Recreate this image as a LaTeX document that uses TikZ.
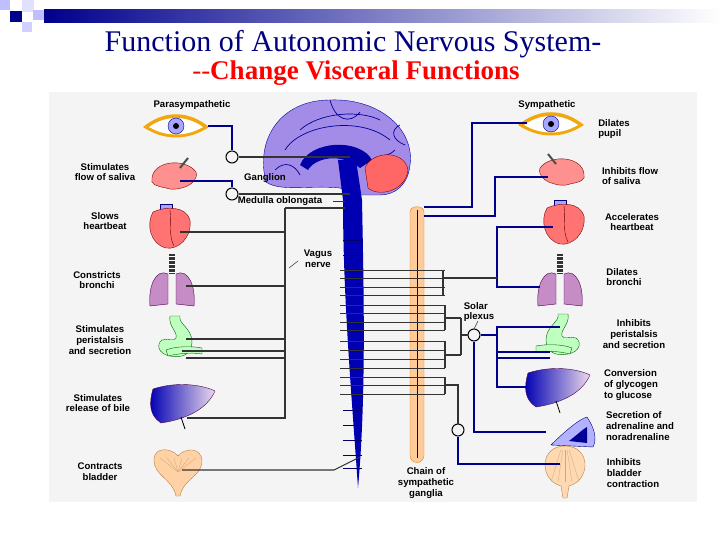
\documentclass[tikz,border=0pt]{standalone}
\usepackage{fontspec}
\setmainfont{Liberation Serif}
\newfontfamily\lab{Liberation Sans}
\begin{document}
\begin{tikzpicture}[x=1pt,y=-1pt,
  lbl/.style={font=\lab\bfseries\fontsize{9.6}{10.8}\selectfont,align=center,inner sep=0pt},
  nv/.style={line width=1.1pt,black!80},
  bn/.style={line width=1.1pt,blue!55!black},
  gang/.style={circle,draw=black,line width=1pt,minimum size=12pt,inner sep=0pt},
  eye/.pic={\fill[orange!60!yellow!80!brown] (-33,0) .. controls (-12,-17) and (12,-17) .. (33,0) .. controls (12,14) and (-12,14) .. (-33,0);
    \fill[white] (-27,0) .. controls (-10,-12) and (10,-12) .. (27,0) .. controls (10,10) and (-10,10) .. (-27,0);
    \fill[blue!35!white,draw=blue!50!black] (0,-1) circle (8); \fill[black] (0,-1) circle (3);},
  gland/.pic={\fill[red!25!pink,draw=red!50!black,line width=.4pt] (-22,2) .. controls (-20,-16) and (12,-18) .. (22,-4) .. controls (26,10) and (0,16) .. (-8,12) .. controls (-18,10) and (-24,8) .. (-22,2);
    \draw[gray!60!black,line width=2pt] (6,-8) -- (14,-18);},
  heart/.pic={\fill[blue!35!white,draw=blue!50!black] (-8,-20) rectangle (4,-8); \fill[red!55!white,draw=red!50!black] (-15,-12) .. controls (-2,-18) and (18,-18) .. (22,-4) .. controls (24,14) and (10,26) .. (-2,24) .. controls (-18,20) and (-22,0) .. (-15,-12);
    \draw[red!40!black,line width=.4pt] (2,-14) .. controls (4,0) and (0,10) .. (6,22);},
  lungs/.pic={\fill[gray!40!black] (-3,-28) rectangle (3,-8); \foreach \q in {-26,-22,-18,-14,-10} \draw[white,line width=.8pt] (-3,\q) -- (3,\q);
    \fill[violet!45!white,draw=violet!60!black] (-4,-8) .. controls (-16,-14) and (-24,4) .. (-22,24) -- (-4,22) -- (-4,4) -- cycle;
    \fill[violet!45!white,draw=violet!60!black] (4,-8) .. controls (16,-14) and (24,4) .. (22,24) -- (4,22) -- (4,4) -- cycle;},
  stomach/.pic={\fill[green!25!white,draw=green!40!black] (-6,-24) -- (4,-24) .. controls (2,-16) and (16,-12) .. (16,2) .. controls (16,16) and (4,18) .. (-6,16) .. controls (-18,14) and (-20,4) .. (-14,0) .. controls (-8,-2) and (-2,2) .. (0,-2) .. controls (2,-8) and (-8,-14) .. (-6,-24);
    \fill[green!25!white,draw=green!40!black] (-10,10) .. controls (0,6) and (16,6) .. (26,8) -- (26,14) .. controls (14,12) and (0,14) .. (-8,16) -- cycle;},
  liver/.pic={\shade[left color=blue!70!black,right color=violet!15!white,draw=violet!60!black] (-30,-14) .. controls (-5,-22) and (20,-18) .. (32,-12) .. controls (24,6) and (4,16) .. (-22,20) .. controls (-34,12) and (-34,0) .. (-30,-14);
    \draw[black,line width=.8pt] (-2,14) -- (2,26);},
  bladder/.pic={\fill[orange!35!white,draw=brown] (-24,-10) .. controls (-24,-24) and (-6,-22) .. (0,-14) .. controls (6,-22) and (24,-24) .. (24,-8) .. controls (22,8) and (6,8) .. (2,26) -- (-2,26) .. controls (-6,8) and (-24,6) .. (-24,-10);
    \foreach \a in {-18,-11,-4,4,11,18} \draw[brown!70,line width=.3pt] (0,2) -- (\a,-12);},
  rbladder/.pic={\fill[orange!30!white,draw=brown] (0,-24) .. controls (26,-24) and (26,10) .. (4,16) -- (2,28) -- (-2,28) -- (-4,16) .. controls (-26,10) and (-26,-24) .. (0,-24);
    \foreach \a in {-14,-7,0,7,14} \draw[brown!70,line width=.3pt] (\a*.3,-20) -- (\a,12);},
  adrenal/.pic={\fill[blue!30!white,draw=blue!50!black] (-22,12) .. controls (-10,0) and (6,-14) .. (14,-16) .. controls (22,-4) and (24,6) .. (20,14) -- cycle; \fill[blue!60!black] (-4,8) .. controls (4,2) and (10,-4) .. (14,-6) -- (14,10) -- cycle;}
]
\useasboundingbox (0,0) rectangle (720,540);
\fill[white] (0,0) rectangle (720,540);
% header decoration
\fill[blue!12!white] (22,0) rectangle (34,12);
\fill[blue!25!white] (33,10) rectangle (50,20);
\fill[blue!18!white] (22,22) rectangle (32,32);
\fill[blue!25!white] (0,0) rectangle (10,10);
\fill[blue!55!black] (10,11) rectangle (22,22);
\shade[left color=blue!55!black,right color=white] (44,10) rectangle (720,23);
\node (t1) at (353,44) {\fontsize{30}{32}\selectfont\color{blue!50!black}Function of Autonomic Nervous System-};
\node (t2) at (356,73) {\fontsize{27}{29}\selectfont\bfseries\color{red}{\mdseries -{}-}Change Visceral Functions};
% panel
\fill[gray!9] (49,92) rectangle (697,502);
\node[lbl] (para) at (192,105) {Parasympathetic};
\node[lbl] (symp) at (547,105) {Sympathetic};
% brain
\fill[violet!40!blue!45!white,draw=blue!60!black] (266,182) .. controls (255,140) and (280,100) .. (330,100) .. controls (380,98) and (415,130) .. (410,165) .. controls (408,185) and (395,195) .. (380,195) -- (360,195) -- (340,188) .. controls (310,185) and (280,192) .. (266,182);
\draw[blue!60!black,line width=.7pt] (285,150) .. controls (300,125) and (360,115) .. (390,140) (300,130) .. controls (320,112) and (360,110) .. (380,120) (330,100) .. controls (335,120) and (350,125) .. (360,112) (395,150) .. controls (385,160) and (380,150) .. (375,165) (275,170) .. controls (285,160) and (295,165) .. (300,175) (400,125) .. controls (390,130) and (392,140) .. (405,145);
\fill[blue!65!black] (300,165) .. controls (310,140) and (360,138) .. (372,160) -- (360,168) .. controls (340,152) and (315,158) .. (308,170) -- cycle;
\fill[red!60!white,draw=red!50!black] (365,168) .. controls (372,150) and (405,150) .. (408,170) .. controls (406,190) and (380,198) .. (368,188) -- cycle;
% spinal cord
\fill[blue!70!black] (338,160) -- (356,160) -- (362,200) .. controls (364,300) and (366,400) .. (358,488) .. controls (352,400) and (343,300) .. (343,200) -- cycle;
% sympathetic chain
\fill[orange!40!white,draw=orange!70!brown] (410,212) .. controls (410,205) and (424,205) .. (424,212) -- (424,455) .. controls (424,465) and (410,465) .. (410,455) -- cycle;
\draw[blue!50!black,line width=.5pt] (417,210) -- (417,458);
% spinal ticks
\foreach \y in {270,278,287,295,305,313,322,330,341,350,359,368,377,385,394}
  \draw[nv,line width=.9pt] (340,\y) -- (445,\y);
\foreach \y in {240,255,410,425,440,455,468}
  \draw[blue!40!black,line width=.5pt] (343,\y) -- (362,\y);
\draw[nv] (443,270) -- (443,295) (443,278) -- (458,278);
\draw[nv] (445,305) -- (445,330) (445,341) -- (445,368) (445,318) -- (461,318) (445,355) -- (461,355) (461,318) -- (461,355);
\draw[nv] (445,377) -- (445,394);
% organs left
\pic at (176,127) {eye};
\pic at (174,176) {gland};
\pic at (168,224) {heart};
\pic at (172,282) {lungs};
\pic at (176,340) {stomach};
\pic at (183,403) {liver};
\pic at (178,470) {bladder};
% organs right
\pic at (551,125) {eye};
\pic[xscale=-1] at (562,172) {gland};
\pic at (562,220) {heart};
\pic at (560,282) {lungs};
\pic[xscale=-1] at (562,338) {stomach};
\pic at (558,387) {liver};
\pic at (573,433) {adrenal};
\pic at (565,470) {rbladder};
% ganglia
\node[gang] (g1) at (232,157) {};
\node[gang] (g2) at (232,194) {};
\node[gang] (sp) at (474,335) {};
\node[gang] (g3) at (458,430) {};
\coordinate (vtop) at (285,208);
% left connectors
\draw[bn] (208,126) -| (g1.north);
\draw[nv] (g1) -- (350,157);
\draw[bn] (180,181) -| (g2.north);
\draw[nv] (g2.east) -- (350,194);
\draw[nv] (vtop) -- (345,208) (vtop) -- (285,418) -- (187,418);
\draw[nv] (180,232) -- (285,232) (186,286) -- (285,286) (186,339) -- (285,339) (182,351) -- (285,351) (186,358) -- (285,358);
\draw[nv] (182,470) -- (334,470) -- (360,457);
\draw[nv,line width=.5pt] (289,268) -- (298,261);
% right connectors
\draw[bn] (527,123) -| (472,207) -- (424,207);
\draw[bn] (548,177) -| (495,216) -- (424,216);
\draw[bn] (553,227) -| (497,287) -- (540,287);
\draw[nv] (458,278) -- (497,278);
\draw[nv] (461,335) -- (sp.west);
\draw[bn] (sp.east) -- (497,335);
\draw[bn] (560,327) -| (497,387) -- (527,387) (497,352) -- (550,352) (497,358) -- (550,358);
\draw[bn] (sp.south) |- (546,432);
\draw[nv] (445,385) -| (g3.north);
\draw[bn] (g3.south) |- (560,464);
\draw[nv,line width=.5pt] (474,329) -- (478,321);
% labels
\node[lbl] at (105,172) {Stimulates\\flow of saliva};
\node[lbl] at (265,178) {Ganglion};
\node[lbl,fill=gray!9] at (280,201) {Medulla oblongata};
\draw[nv,line width=.6pt] (333,201) -- (345,201);
\node[lbl] at (105,221) {Slows\\heartbeat};
\node[lbl] at (318,259) {Vagus\\nerve};
\node[lbl] at (97,280) {Constricts\\bronchi};
\node[lbl] at (100,340) {Stimulates\\peristalsis\\and secretion};
\node[lbl] at (98,403) {Stimulates\\release of bile};
\node[lbl] at (100,472) {Contracts\\bladder};
\node[lbl,align=left] at (614,129) {Dilates\\pupil};
\node[lbl,align=left] at (630,176) {Inhibits flow\\of saliva};
\node[lbl] at (632,222) {Accelerates\\heartbeat};
\node[lbl,align=left] at (624,277) {Dilates\\bronchi};
\node[lbl,align=left] at (479,312) {Solar\\plexus};
\node[lbl] at (634,334) {Inhibits\\peristalsis\\and secretion};
\node[lbl,align=left] at (631,385) {Conversion\\of glycogen\\to glucose};
\node[lbl,align=left] at (640,426) {Secretion of\\adrenaline and\\noradrenaline};
\node[lbl,align=left] at (633,473) {Inhibits\\bladder\\contraction};
\node[lbl] at (426,483) {Chain of\\sympathetic\\ganglia};
\end{tikzpicture}
\end{document}
